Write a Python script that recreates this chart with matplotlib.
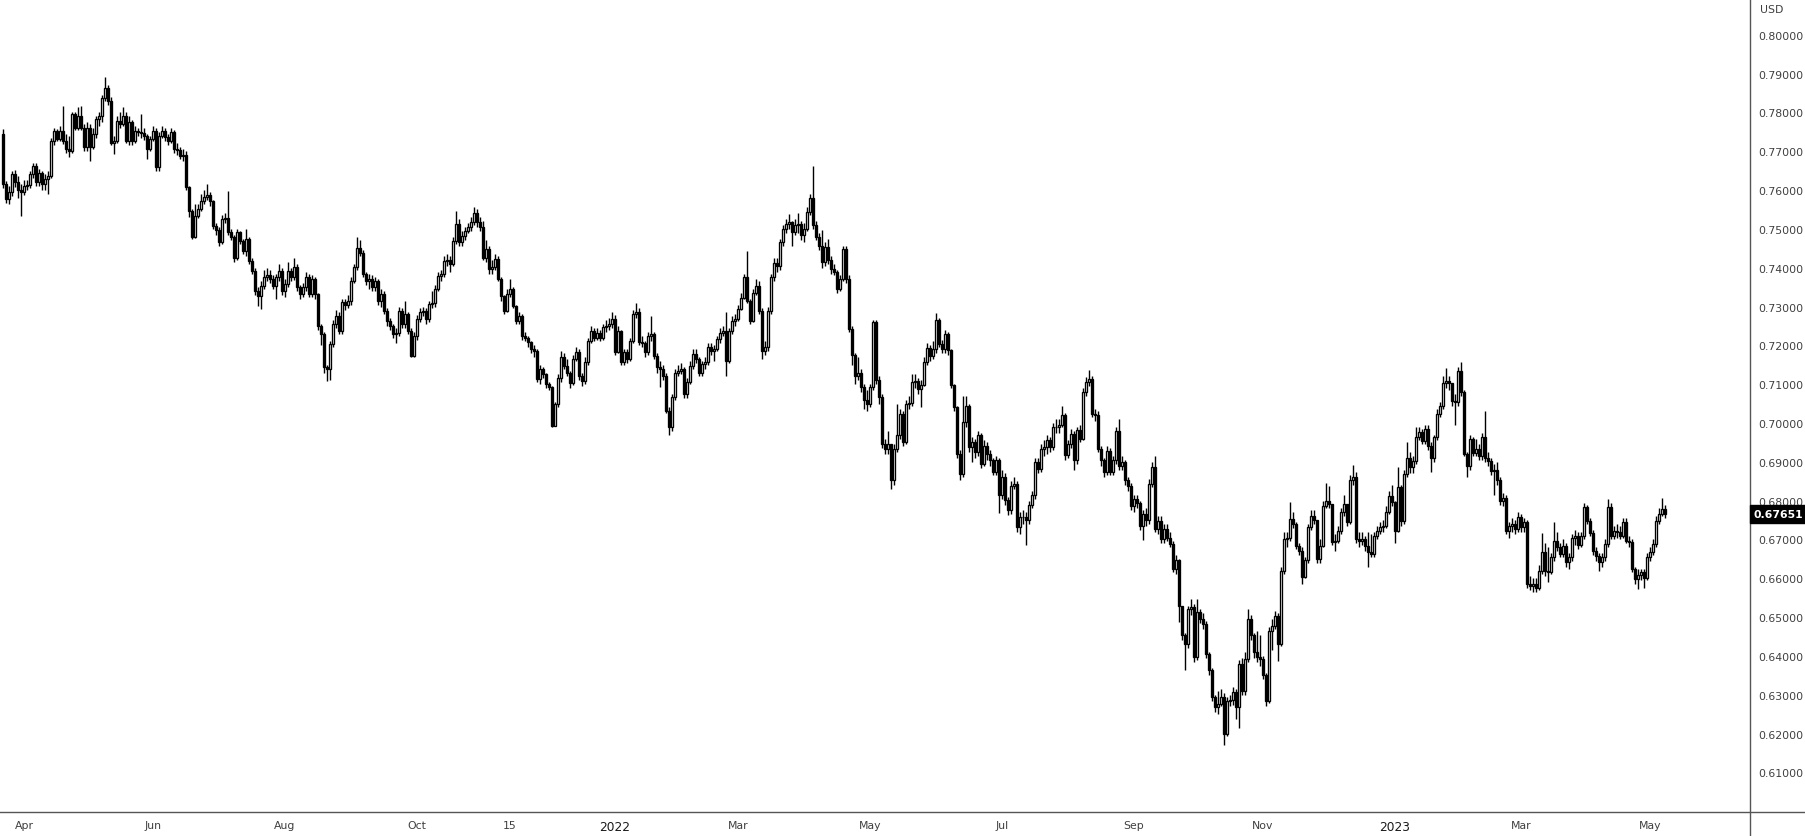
import numpy as np
import pandas as pd
import matplotlib
matplotlib.use("Agg")
import matplotlib.pyplot as plt
from matplotlib.lines import Line2D

# --- daily AUD/USD candles, prices in pips (x 1e-4) ---
first_open = 7744

close_2021 = [
    7615, 7578, 7595, 7641, 7620, 7600, 7596, 7610, 7613, 7640,
    7662, 7620, 7645, 7615, 7628, 7637, 7727, 7753, 7731, 7753,
    7727, 7705, 7700, 7795, 7761, 7791, 7761, 7710, 7761, 7710,
    7744, 7782, 7790, 7838, 7862, 7830, 7722, 7727, 7778, 7770,
    7791, 7727, 7774, 7727, 7753, 7750, 7746, 7740, 7705, 7731,
    7753, 7658, 7740, 7753, 7736, 7727, 7750, 7705, 7702, 7688,
    7690, 7607, 7547, 7478, 7534, 7551, 7572, 7581, 7587, 7572,
    7508, 7498, 7467, 7525, 7528, 7491, 7480, 7426, 7491, 7469,
    7444, 7474, 7418, 7392, 7341, 7328, 7353, 7375, 7381, 7370,
    7353, 7375, 7392, 7341, 7358, 7392, 7375, 7401, 7349, 7332,
    7349, 7375, 7332, 7371, 7332, 7250, 7229, 7143, 7139, 7203,
    7255, 7276, 7238, 7311, 7305, 7315, 7366, 7401, 7450, 7439,
    7383, 7366, 7372, 7349, 7366, 7315, 7332, 7289, 7263, 7250,
    7229, 7233, 7289, 7255, 7281, 7238, 7173, 7225, 7268, 7285,
    7289, 7268, 7306, 7310, 7345, 7379, 7383, 7418, 7420, 7410,
    7469, 7512, 7465, 7482, 7495, 7505, 7517, 7542, 7517, 7504,
    7426, 7448, 7396, 7401, 7422, 7371, 7328, 7289, 7332, 7345,
    7302, 7263, 7276, 7225, 7220, 7208, 7190, 7186, 7113, 7139,
    7126, 7100, 7092, 6993, 7049, 7117, 7169, 7148, 7130, 7103,
    7165, 7182, 7122, 7109, 7156, 7212, 7238, 7220, 7232, 7220,
    7246, 7250, 7255, 7269,
]
high_2021 = [
    7757, 7622, 7610, 7650, 7652, 7635, 7615, 7625, 7625, 7650,
    7670, 7670, 7655, 7650, 7640, 7650, 7735, 7760, 7758, 7765,
    7817, 7745, 7740, 7800, 7800, 7815, 7817, 7770, 7775, 7770,
    7760, 7790, 7800, 7845, 7891, 7870, 7840, 7740, 7790, 7800,
    7815, 7800, 7790, 7780, 7765, 7760, 7795, 7760, 7745, 7740,
    7765, 7760, 7750, 7765, 7760, 7745, 7760, 7755, 7720, 7710,
    7705, 7700, 7610, 7550, 7564, 7565, 7590, 7600, 7615, 7595,
    7575, 7515, 7505, 7535, 7540, 7598, 7500, 7485, 7500, 7495,
    7475, 7500, 7480, 7425, 7400, 7350, 7365, 7395, 7400, 7395,
    7380, 7385, 7410, 7400, 7370, 7415, 7400, 7425, 7410, 7355,
    7360, 7390, 7385, 7380, 7375, 7335, 7255, 7235, 7150, 7210,
    7265, 7290, 7285, 7320, 7320, 7330, 7375, 7410, 7478, 7470,
    7445, 7390, 7385, 7380, 7375, 7370, 7345, 7340, 7295, 7270,
    7255, 7245, 7300, 7295, 7315, 7285, 7245, 7235, 7278, 7295,
    7300, 7295, 7315, 7340, 7355, 7390, 7395, 7430, 7435, 7430,
    7478, 7545, 7525, 7495, 7505, 7515, 7530, 7556, 7550, 7530,
    7520, 7470, 7455, 7420, 7435, 7430, 7375, 7330, 7345, 7370,
    7350, 7305, 7285, 7280, 7235, 7225, 7210, 7200, 7190, 7150,
    7145, 7130, 7105, 7095, 7055, 7125, 7186, 7180, 7165, 7135,
    7175, 7195, 7190, 7130, 7170, 7220, 7250, 7245, 7245, 7240,
    7255, 7265, 7270, 7285,
]
low_2021 = [
    7605, 7566, 7563, 7585, 7608, 7580, 7532, 7588, 7600, 7605,
    7630, 7610, 7610, 7600, 7600, 7590, 7630, 7715, 7725, 7725,
    7718, 7695, 7685, 7695, 7755, 7755, 7755, 7700, 7700, 7675,
    7705, 7735, 7765, 7775, 7830, 7820, 7715, 7693, 7720, 7760,
    7765, 7720, 7715, 7715, 7720, 7740, 7735, 7730, 7680, 7700,
    7725, 7650, 7650, 7735, 7725, 7715, 7720, 7695, 7690, 7680,
    7675, 7600, 7530, 7475, 7476, 7528, 7545, 7565, 7575, 7560,
    7500, 7485, 7455, 7460, 7515, 7485, 7470, 7415, 7420, 7460,
    7435, 7430, 7410, 7385, 7330, 7302, 7293, 7345, 7365, 7360,
    7345, 7320, 7365, 7330, 7325, 7350, 7365, 7368, 7340, 7320,
    7325, 7340, 7325, 7325, 7320, 7240, 7200, 7130, 7109, 7110,
    7195, 7245, 7230, 7230, 7290, 7295, 7305, 7360, 7395, 7430,
    7375, 7355, 7345, 7340, 7340, 7305, 7300, 7280, 7250, 7240,
    7220, 7205, 7225, 7245, 7245, 7230, 7170, 7170, 7215, 7260,
    7275, 7255, 7260, 7295, 7300, 7340, 7365, 7375, 7405, 7390,
    7405, 7460, 7455, 7455, 7470, 7490, 7495, 7510, 7505, 7495,
    7420, 7415, 7385, 7385, 7395, 7365, 7315, 7280, 7285, 7325,
    7295, 7255, 7255, 7215, 7210, 7195, 7180, 7170, 7105, 7100,
    7115, 7090, 7085, 6990, 6992, 7040, 7105, 7140, 7120, 7090,
    7098, 7160, 7112, 7095, 7100, 7150, 7205, 7210, 7215, 7210,
    7215, 7235, 7240, 7245,
]

close_2022 = [
    7184, 7238, 7158, 7182, 7166, 7212, 7281, 7285, 7209, 7205,
    7182, 7225, 7230, 7173, 7143, 7140, 7122, 7032, 6989, 7066,
    7130, 7135, 7139, 7075, 7105, 7148, 7178, 7165, 7130, 7152,
    7156, 7195, 7186, 7190, 7216, 7233, 7238, 7160, 7238, 7263,
    7268, 7293, 7323, 7375, 7315, 7263, 7336, 7353, 7289, 7186,
    7195, 7289, 7375, 7413, 7405, 7465, 7499, 7512, 7517, 7491,
    7509, 7512, 7485, 7500, 7543, 7579, 7509, 7479, 7457, 7414,
    7453, 7419, 7397, 7390, 7346, 7371, 7449, 7371, 7243, 7174,
    7122, 7130, 7093, 7058, 7050, 7093, 7260, 7110, 7067, 6947,
    6934, 6945, 6852, 6934, 6968, 7024, 6951, 7050, 7052, 7106,
    7108, 7088, 7097, 7157, 7193, 7172, 7191, 7264, 7204, 7191,
    7230, 7187, 7097, 7041, 6921, 6869, 7002, 7045, 6938, 6951,
    6925, 6968, 6895, 6942, 6921, 6904, 6874, 6904, 6814, 6861,
    6801, 6775, 6839, 6844, 6732, 6758, 6758, 6749, 6788, 6814,
    6900, 6882, 6934, 6938, 6955, 6938, 6990, 6990, 6994, 7020,
    6917, 6947, 6972, 6904, 6981, 6960, 7080, 7105, 7114, 7024,
    7020, 6934, 6904, 6874, 6929, 6874, 6904, 6980, 6890, 6899,
    6852, 6839, 6787, 6804, 6795, 6736, 6766, 6749, 6843, 6886,
    6727, 6748, 6701, 6727, 6705, 6689, 6624, 6646, 6530, 6453,
    6431, 6521, 6527, 6397, 6513, 6496, 6483, 6405, 6363, 6294,
    6268, 6277, 6294, 6200, 6285, 6287, 6307, 6268, 6380, 6311,
    6393, 6496, 6453, 6410, 6397, 6392, 6350, 6285, 6465, 6478,
    6504, 6431, 6620, 6701, 6705, 6753, 6740, 6684, 6671, 6603,
    6646, 6731, 6761, 6749, 6650, 6684, 6787, 6800, 6792, 6693,
    6697, 6723, 6770, 6792, 6744, 6852, 6860, 6701, 6697, 6701,
    6684, 6667, 6663, 6710, 6723, 6731, 6736, 6770, 6813, 6796,
]
high_2022 = [
    7278, 7250, 7240, 7190, 7190, 7220, 7290, 7310, 7295, 7225,
    7210, 7235, 7276, 7235, 7180, 7160, 7150, 7130, 7040, 7075,
    7140, 7150, 7155, 7145, 7115, 7160, 7190, 7190, 7170, 7160,
    7170, 7205, 7205, 7200, 7225, 7245, 7250, 7285, 7245, 7275,
    7280, 7305, 7335, 7385, 7444, 7320, 7345, 7370, 7365, 7295,
    7210, 7300, 7385, 7425, 7425, 7475, 7510, 7525, 7538, 7520,
    7525, 7540, 7520, 7515, 7555, 7590, 7663, 7520, 7490, 7496,
    7465, 7475, 7430, 7410, 7395, 7380, 7457, 7457, 7380, 7250,
    7180, 7170, 7140, 7100, 7085, 7100, 7266, 7265, 7120, 7075,
    6960, 6980, 6945, 6945, 7050, 7035, 7030, 7060, 7070, 7127,
    7125, 7115, 7110, 7170, 7205, 7200, 7210, 7284, 7270, 7215,
    7240, 7235, 7190, 7100, 7045, 6930, 7070, 7069, 7050, 6965,
    6960, 6980, 6975, 6955, 6950, 6930, 6910, 6915, 6910, 6880,
    6870, 6810, 6850, 6860, 6850, 6770, 6775, 6770, 6800, 6825,
    6910, 6910, 6945, 6955, 6970, 6965, 7000, 7010, 7010, 7045,
    7025, 6955, 6985, 6980, 6990, 6995, 7090, 7118, 7137, 7120,
    7035, 7030, 6940, 6910, 6940, 6935, 6915, 6990, 7010, 6915,
    6905, 6860, 6845, 6815, 6815, 6800, 6775, 6780, 6855, 6900,
    6916, 6760, 6760, 6740, 6740, 6720, 6695, 6660, 6650, 6530,
    6460, 6530, 6547, 6535, 6547, 6520, 6510, 6490, 6410, 6370,
    6300, 6310, 6315, 6305, 6295, 6300, 6320, 6315, 6390, 6395,
    6410, 6522, 6505, 6460, 6465, 6455, 6400, 6355, 6475, 6495,
    6515, 6510, 6630, 6720, 6720, 6797, 6770, 6745, 6690, 6680,
    6655, 6740, 6775, 6775, 6720, 6700, 6800, 6845, 6839, 6775,
    6715, 6735, 6780, 6815, 6790, 6865, 6893, 6875, 6720, 6720,
    6710, 6720, 6715, 6720, 6735, 6745, 6750, 6785, 6825, 6840,
]
low_2022 = [
    7175, 7180, 7150, 7150, 7155, 7160, 7205, 7270, 7200, 7195,
    7170, 7175, 7210, 7165, 7130, 7092, 7110, 7025, 6968, 6980,
    7060, 7120, 7125, 7065, 7065, 7100, 7140, 7155, 7120, 7120,
    7140, 7150, 7175, 7160, 7185, 7205, 7225, 7122, 7155, 7230,
    7250, 7262, 7290, 7320, 7310, 7255, 7260, 7330, 7280, 7165,
    7175, 7185, 7280, 7365, 7390, 7395, 7455, 7490, 7500, 7457,
    7485, 7490, 7470, 7465, 7495, 7535, 7500, 7470, 7445, 7400,
    7405, 7410, 7385, 7380, 7335, 7340, 7365, 7360, 7235, 7150,
    7100, 7110, 7080, 7037, 7030, 7040, 7085, 7100, 7050, 6935,
    6920, 6920, 6830, 6840, 6925, 6960, 6940, 6945, 7035, 7045,
    7090, 7075, 7040, 7095, 7150, 7160, 7165, 7180, 7195, 7180,
    7180, 7175, 7090, 7030, 6910, 6852, 6860, 6990, 6925, 6900,
    6910, 6915, 6885, 6890, 6905, 6890, 6865, 6865, 6768, 6805,
    6790, 6762, 6765, 6830, 6720, 6715, 6740, 6685, 6740, 6780,
    6805, 6870, 6875, 6915, 6920, 6925, 6930, 6975, 6975, 6990,
    6905, 6910, 6935, 6880, 6895, 6950, 6955, 7070, 7095, 7015,
    7005, 6925, 6890, 6860, 6865, 6865, 6865, 6895, 6880, 6880,
    6840, 6825, 6775, 6770, 6780, 6725, 6698, 6735, 6740, 6835,
    6720, 6715, 6690, 6690, 6695, 6680, 6615, 6610, 6487, 6440,
    6363, 6420, 6505, 6385, 6390, 6485, 6470, 6395, 6350, 6285,
    6255, 6250, 6270, 6170, 6195, 6270, 6275, 6238, 6215, 6300,
    6300, 6385, 6440, 6395, 6385, 6375, 6340, 6272, 6280, 6415,
    6470, 6388, 6425, 6610, 6680, 6695, 6730, 6675, 6660, 6585,
    6600, 6640, 6725, 6740, 6640, 6640, 6680, 6780, 6780, 6685,
    6670, 6690, 6715, 6760, 6735, 6740, 6840, 6690, 6680, 6685,
    6670, 6630, 6655, 6655, 6700, 6715, 6720, 6730, 6765, 6785,
]

close_2023 = [
    6723, 6834, 6748, 6868, 6911, 6886, 6903, 6963, 6976, 6954,
    6984, 6941, 6909, 6963, 7023, 7044, 7104, 7109, 7104, 7057,
    7053, 7135, 7079, 6920, 6890, 6959, 6924, 6933, 6916, 6963,
    6911, 6903, 6877, 6880, 6852, 6800, 6806, 6723, 6736, 6740,
    6727, 6757, 6731, 6745, 6585, 6581, 6585, 6576, 6620, 6667,
    6620, 6616, 6654, 6697, 6680, 6663, 6684, 6641, 6654, 6705,
    6710, 6685, 6710, 6783, 6748, 6718, 6671, 6658, 6641, 6654,
    6688, 6783, 6710, 6723, 6720, 6710, 6744, 6697, 6693, 6624,
    6598, 6608, 6615, 6601, 6654, 6667, 6688, 6748, 6765, 6778,
    6765.1,
]
high_2023 = [
    6800, 6886, 6840, 6880, 6950, 6925, 6915, 6990, 6990, 6985,
    6995, 6995, 6950, 6970, 7035, 7055, 7120, 7142, 7120, 7100,
    7075, 7145, 7156, 7085, 6925, 6970, 6965, 6960, 6945, 6975,
    7030, 6925, 6910, 6895, 6900, 6860, 6820, 6815, 6745, 6755,
    6750, 6770, 6765, 6755, 6750, 6605, 6600, 6600, 6635, 6717,
    6690, 6680, 6665, 6745, 6720, 6690, 6700, 6690, 6665, 6715,
    6725, 6720, 6720, 6795, 6790, 6755, 6725, 6680, 6665, 6665,
    6700, 6805, 6795, 6735, 6740, 6735, 6756, 6755, 6710, 6700,
    6630, 6625, 6625, 6625, 6665, 6680, 6700, 6760, 6780, 6806,
    6790,
]
low_2023 = [
    6690, 6720, 6735, 6740, 6860, 6870, 6870, 6895, 6955, 6945,
    6945, 6930, 6873, 6900, 6955, 7015, 7035, 7090, 7085, 7045,
    6995, 7045, 7070, 6915, 6860, 6880, 6915, 6915, 6905, 6905,
    6900, 6890, 6865, 6815, 6840, 6790, 6785, 6715, 6705, 6720,
    6715, 6720, 6720, 6720, 6575, 6570, 6564, 6565, 6570, 6610,
    6605, 6590, 6610, 6645, 6670, 6655, 6655, 6630, 6625, 6645,
    6685, 6675, 6680, 6700, 6740, 6710, 6660, 6645, 6620, 6630,
    6645, 6680, 6700, 6700, 6705, 6700, 6705, 6690, 6680, 6615,
    6585, 6573, 6595, 6574, 6595, 6645, 6660, 6680, 6740, 6760,
    6755,
]

tick_dates = ['2021-04-01', '2021-06-01', '2021-08-02', '2021-10-01', '2021-11-15',
              '2022-01-03', '2022-03-01', '2022-05-02', '2022-07-01', '2022-09-01',
              '2022-11-01', '2023-01-02', '2023-03-01', '2023-05-01']
tick_labels = ['Apr', 'Jun', 'Aug', 'Oct', '15', '2022', 'Mar', 'May', 'Jul', 'Sep',
               'Nov', '2023', 'Mar', 'May']
price_ticks = [0.61, 0.62, 0.63, 0.64, 0.65, 0.66, 0.67, 0.68, 0.69, 0.70,
               0.71, 0.72, 0.73, 0.74, 0.75, 0.76, 0.77, 0.78, 0.79, 0.80]
last_price = 0.67651

# --- build the OHLC table ---
closes = np.array(close_2021 + close_2022 + close_2023) / 10000.0
highs = np.array(high_2021 + high_2022 + high_2023) / 10000.0
lows = np.array(low_2021 + low_2022 + low_2023) / 10000.0
opens = np.concatenate([[first_open / 10000.0], closes[:-1]])
dates = pd.bdate_range('2021-03-23', periods=len(closes))
df = pd.DataFrame({'open': opens, 'high': highs, 'low': lows, 'close': closes}, index=dates)
df['high'] = df[['open', 'high', 'close']].max(axis=1)
df['low'] = df[['open', 'low', 'close']].min(axis=1)
x = np.arange(len(df))

# --- figure layout (pixel based, 1805 x 837) ---
W, H = 1805, 837
axis_x, axis_y = 1750, 813
fig = plt.figure(figsize=(W / 100, H / 100), dpi=100, facecolor='white')
ax = fig.add_axes([0, 1 - axis_y / H, axis_x / W, axis_y / H])
ax.set_facecolor('white')

up = df['close'] >= df['open']
ax.vlines(x, df['low'], df['high'], color='black', linewidth=1.0, zorder=1)
body_low = np.minimum(df['open'], df['close'])
body_h = np.abs(df['close'] - df['open'])
ax.bar(x[up], body_h[up], bottom=body_low[up], width=0.7,
       facecolor='white', edgecolor='black', linewidth=0.95, zorder=2)
ax.bar(x[~up], body_h[~up], bottom=body_low[~up], width=0.7,
       facecolor='black', edgecolor='black', linewidth=0.95, zorder=2)

ax.set_xlim(-1, axis_x / 3 - 1)
ax.set_ylim(0.80 - (axis_y - 35.7) / 3883, 0.80 + 35.7 / 3883)

for s in ax.spines.values():
    s.set_visible(False)

ax.yaxis.tick_right()
ax.set_yticks(price_ticks)
ax.set_yticklabels([f'{p:.5f}' for p in price_ticks])
ax.tick_params(axis='y', length=0, pad=6, labelsize=7.8, labelcolor='#3f3f3f')

pos = dates.get_indexer(pd.to_datetime(tick_dates))
ax.set_xticks(pos)
ax.set_xticklabels(tick_labels)
ax.tick_params(axis='x', length=0, pad=6, labelsize=7.8, labelcolor='#3f3f3f')
for lab in ax.get_xticklabels():
    if lab.get_text() in ('2022', '2023'):
        lab.set_color('#1a1a1a')
        lab.set_fontsize(8.8)

# axis border lines (run to the figure edges, like the TradingView frame)
fig.add_artist(Line2D([0, 1], [1 - axis_y / H] * 2, color='#555555', linewidth=1.0))
fig.add_artist(Line2D([axis_x / W] * 2, [0, 1], color='#555555', linewidth=1.0))

fig.text(1760 / W, 1 - 10 / H, 'USD', fontsize=7.8, color='#3f3f3f', ha='left', va='center')

# last price tag
y_tag = 1 - (35.7 + (0.80 - last_price) * 3883) / H
fig.text(1754 / W, y_tag, f'{last_price:.5f}', fontsize=7.8, fontweight='bold',
         color='white', ha='left', va='center',
         bbox=dict(boxstyle='square,pad=0.35', facecolor='black', edgecolor='black'))

fig.savefig('out.png', dpi=100, facecolor='white')
